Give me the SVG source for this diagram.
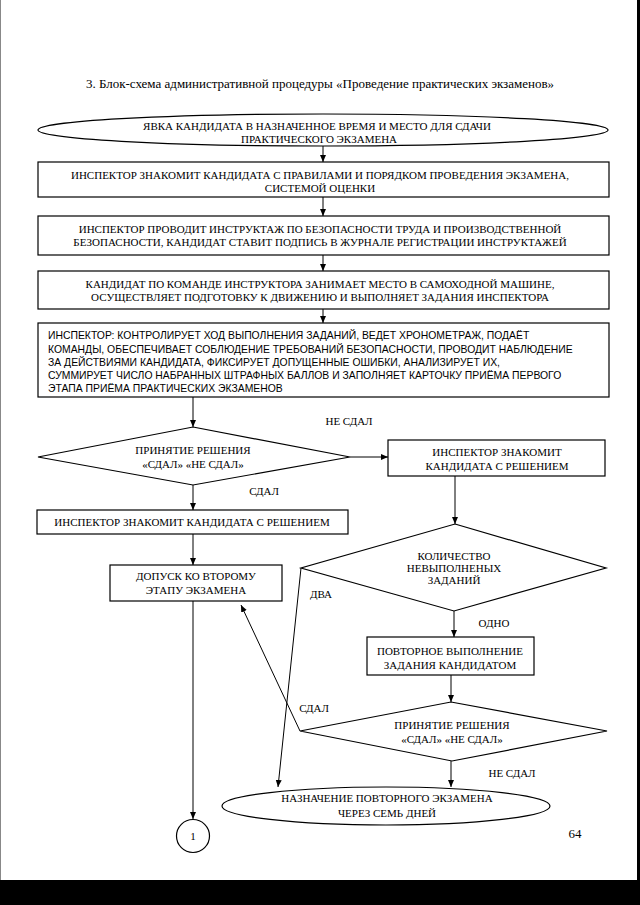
<svg xmlns="http://www.w3.org/2000/svg" width="640" height="905" viewBox="0 0 640 905">
<style>
.shape{fill:#fff;stroke:#000;stroke-width:1.2}
.t{font-family:"Liberation Serif","Times New Roman",serif;font-size:11px;fill:#000;text-anchor:middle}
.ts{font-family:"Liberation Sans",Arial,sans-serif;font-size:10.4px;fill:#000}
.title{font-family:"Liberation Serif","Times New Roman",serif;font-size:13px;fill:#000;text-anchor:middle}
.c{fill:none;stroke:#000;stroke-width:1}
</style>
<defs>
<marker id="ah" markerUnits="userSpaceOnUse" markerWidth="8" markerHeight="7" refX="7" refY="3" orient="auto">
<path d="M0,0 L7,3 L0,6 z" fill="#000"/>
</marker>
</defs>
<rect x="0" y="0" width="640" height="905" fill="#fff"/>
<line x1="0.5" y1="0" x2="0.5" y2="880" stroke="#888" stroke-width="1"/>
<rect x="637" y="0" width="3" height="905" fill="#000"/>
<rect x="0" y="880" width="640" height="25" fill="#000"/>

<text class="title" x="320" y="88">3. Блок-схема административной процедуры «Проведение практических экзаменов»</text>

<g id="connectors">
<line class="c" x1="323" y1="146" x2="323" y2="162" marker-end="url(#ah)"/>
<line class="c" x1="323" y1="197" x2="323" y2="216" marker-end="url(#ah)"/>
<line class="c" x1="323" y1="255" x2="323" y2="271" marker-end="url(#ah)"/>
<line class="c" x1="323" y1="309" x2="323" y2="323" marker-end="url(#ah)"/>
<line class="c" x1="193" y1="397" x2="193" y2="427" marker-end="url(#ah)"/>
<line class="c" x1="350" y1="457" x2="388" y2="457" marker-end="url(#ah)"/>
<line class="c" x1="193" y1="485" x2="193" y2="510" marker-end="url(#ah)"/>
<line class="c" x1="193" y1="534" x2="193" y2="565" marker-end="url(#ah)"/>
<line class="c" x1="193" y1="601" x2="193" y2="819" marker-end="url(#ah)"/>
<line class="c" x1="455" y1="476" x2="455" y2="524" marker-end="url(#ah)"/>
<line class="c" x1="454" y1="611" x2="454" y2="637" marker-end="url(#ah)"/>
<line class="c" x1="451" y1="675" x2="451" y2="702" marker-end="url(#ah)"/>
<line class="c" x1="451" y1="761" x2="451" y2="787" marker-end="url(#ah)"/>
<line class="c" x1="301" y1="568" x2="278" y2="787" marker-end="url(#ah)"/>
<line class="c" x1="300" y1="731" x2="241" y2="605" marker-end="url(#ah)"/>
<text class="t" x="349" y="425">НЕ СДАЛ</text>
<text class="t" x="264" y="495">СДАЛ</text>
<text class="t" x="321" y="598">ДВА</text>
<text class="t" x="494" y="627">ОДНО</text>
<text class="t" x="314" y="712">СДАЛ</text>
<text class="t" x="512" y="777">НЕ СДАЛ</text>
</g>

<g id="n1">
<ellipse class="shape" cx="323" cy="130" rx="285" ry="16"/>
<text class="t" x="317" y="130">ЯВКА КАНДИДАТА В НАЗНАЧЕННОЕ ВРЕМЯ И МЕСТО ДЛЯ СДАЧИ</text>
<text class="t" x="319" y="143">ПРАКТИЧЕСКОГО ЭКЗАМЕНА</text>
</g>
<g id="n2">
<rect class="shape" x="38" y="162" width="571" height="35"/>
<text class="t" x="320" y="179">ИНСПЕКТОР ЗНАКОМИТ КАНДИДАТА С ПРАВИЛАМИ И ПОРЯДКОМ ПРОВЕДЕНИЯ ЭКЗАМЕНА,</text>
<text class="t" x="320" y="192">СИСТЕМОЙ ОЦЕНКИ</text>
</g>
<g id="n3">
<rect class="shape" x="38" y="216" width="571" height="39"/>
<text class="t" x="320" y="233">ИНСПЕКТОР ПРОВОДИТ ИНСТРУКТАЖ ПО БЕЗОПАСНОСТИ ТРУДА И ПРОИЗВОДСТВЕННОЙ</text>
<text class="t" x="320" y="246">БЕЗОПАСНОСТИ, КАНДИДАТ СТАВИТ ПОДПИСЬ В ЖУРНАЛЕ РЕГИСТРАЦИИ ИНСТРУКТАЖЕЙ</text>
</g>
<g id="n4">
<rect class="shape" x="38" y="271" width="571" height="38"/>
<text class="t" x="320" y="288">КАНДИДАТ ПО КОМАНДЕ ИНСТРУКТОРА ЗАНИМАЕТ МЕСТО В САМОХОДНОЙ МАШИНЕ,</text>
<text class="t" x="320" y="301">ОСУЩЕСТВЛЯЕТ ПОДГОТОВКУ К ДВИЖЕНИЮ И ВЫПОЛНЯЕТ ЗАДАНИЯ ИНСПЕКТОРА</text>
</g>
<g id="n5">
<rect class="shape" x="38" y="323" width="571" height="74"/>
<text class="ts" x="48" y="339">ИНСПЕКТОР: КОНТРОЛИРУЕТ ХОД ВЫПОЛНЕНИЯ ЗАДАНИЙ, ВЕДЕТ ХРОНОМЕТРАЖ, ПОДАЁТ</text>
<text class="ts" x="48" y="353">КОМАНДЫ, ОБЕСПЕЧИВАЕТ СОБЛЮДЕНИЕ ТРЕБОВАНИЙ БЕЗОПАСНОСТИ, ПРОВОДИТ НАБЛЮДЕНИЕ</text>
<text class="ts" x="48" y="366">ЗА ДЕЙСТВИЯМИ КАНДИДАТА, ФИКСИРУЕТ ДОПУЩЕННЫЕ ОШИБКИ, АНАЛИЗИРУЕТ ИХ,</text>
<text class="ts" x="48" y="379">СУММИРУЕТ ЧИСЛО НАБРАННЫХ ШТРАФНЫХ БАЛЛОВ И ЗАПОЛНЯЕТ КАРТОЧКУ ПРИЁМА ПЕРВОГО</text>
<text class="ts" x="48" y="392">ЭТАПА ПРИЁМА ПРАКТИЧЕСКИХ ЭКЗАМЕНОВ</text>
</g>
<g id="d1">
<polygon class="shape" points="193,427 350,457 193,485 38,457"/>
<text class="t" x="193" y="454">ПРИНЯТИЕ РЕШЕНИЯ</text>
<text class="t" x="193" y="468">«СДАЛ» «НЕ СДАЛ»</text>
</g>
<g id="n6">
<rect class="shape" x="388" y="440" width="217" height="36"/>
<text class="t" x="497" y="456">ИНСПЕКТОР ЗНАКОМИТ</text>
<text class="t" x="497" y="470">КАНДИДАТА С РЕШЕНИЕМ</text>
</g>
<g id="n7">
<rect class="shape" x="37" y="510" width="311" height="24"/>
<text class="t" x="192" y="526">ИНСПЕКТОР ЗНАКОМИТ КАНДИДАТА С РЕШЕНИЕМ</text>
</g>
<g id="n8">
<rect class="shape" x="110" y="565" width="172" height="36"/>
<text class="t" x="196" y="580">ДОПУСК КО ВТОРОМУ</text>
<text class="t" x="196" y="594">ЭТАПУ ЭКЗАМЕНА</text>
</g>
<g id="c1">
<circle class="shape" cx="193" cy="836" r="16.5"/>
<text class="t" x="193" y="840">1</text>
</g>
<g id="d2">
<polygon class="shape" points="455,524 606,568 454,611 301,568"/>
<text class="t" x="454" y="560">КОЛИЧЕСТВО</text>
<text class="t" x="454" y="572">НЕВЫПОЛНЕНЫХ</text>
<text class="t" x="454" y="584">ЗАДАНИЙ</text>
</g>
<g id="n9">
<rect class="shape" x="367" y="637" width="167" height="38"/>
<text class="t" x="450" y="655">ПОВТОРНОЕ ВЫПОЛНЕНИЕ</text>
<text class="t" x="450" y="669">ЗАДАНИЯ КАНДИДАТОМ</text>
</g>
<g id="d3">
<polygon class="shape" points="451,702 607,731 452,761 300,731"/>
<text class="t" x="452" y="729">ПРИНЯТИЕ РЕШЕНИЯ</text>
<text class="t" x="452" y="743">«СДАЛ» «НЕ СДАЛ»</text>
</g>
<g id="n10">
<ellipse class="shape" cx="386" cy="806" rx="164" ry="19"/>
<text class="t" x="387" y="802">НАЗНАЧЕНИЕ ПОВТОРНОГО ЭКЗАМЕНА</text>
<text class="t" x="387" y="817">ЧЕРЕЗ СЕМЬ ДНЕЙ</text>
</g>
<text class="title" x="575" y="838">64</text>
</svg>
